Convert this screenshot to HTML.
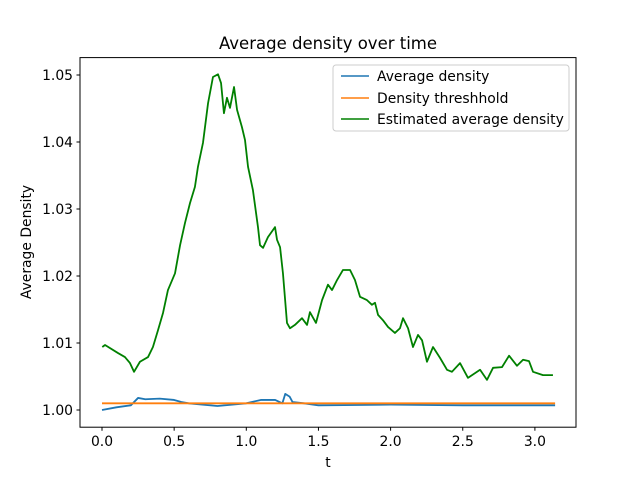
<!DOCTYPE html>
<html><head><meta charset="utf-8"><style>
body{margin:0;background:#fff}
svg{font-family:"DejaVu Sans","Liberation Sans",sans-serif}
</style></head><body>
<svg id="chart" width="640" height="480">
<rect width="640" height="480" fill="#fff"/>
<text x="328" y="49" text-anchor="middle" font-size="16.5">Average density over time</text>
<g id="axes"></g>
<g id="series"></g>
<rect x="80" y="57.6" width="496" height="369.6" fill="none" stroke="#000" stroke-width="1"/>
<text x="328" y="467" text-anchor="middle" font-size="13.9">t</text>
<text transform="translate(31,242) rotate(-90)" text-anchor="middle" font-size="13.9">Average Density</text>
<g>
<rect x="333" y="65" width="236" height="66" rx="3" fill="#fff" stroke="#ccc" stroke-width="1"/>
<line x1="341" y1="76" x2="369" y2="76" stroke="#1f77b4" stroke-width="1.6"/>
<text x="377" y="81" font-size="13.9">Average density</text>
<line x1="341" y1="98" x2="369" y2="98" stroke="#ff7f0e" stroke-width="1.6"/>
<text x="377" y="103" font-size="13.9">Density threshhold</text>
<line x1="341" y1="119" x2="369" y2="119" stroke="#008000" stroke-width="1.6"/>
<text x="377" y="124" font-size="13.9">Estimated average density</text>
</g>
</svg>
<script>
const xTicks=[0,0.5,1.0,1.5,2.0,2.5,3.0];
const xTickLabels=["0.0","0.5","1.0","1.5","2.0","2.5","3.0"];
const yTicks=[1.00,1.01,1.02,1.03,1.04,1.05];
const yTickLabels=["1.00","1.01","1.02","1.03","1.04","1.05"];
const estT=[0.002,0.021,0.111,0.159,0.194,0.222,0.263,0.319,0.353,0.388,0.423,0.457,0.506,0.541,0.575,0.610,0.644,0.665,0.700,0.735,0.769,0.804,0.825,0.845,0.866,0.887,0.915,0.936,0.970,0.991,1.012,1.046,1.081,1.095,1.116,1.150,1.199,1.213,1.234,1.254,1.282,1.303,1.337,1.386,1.421,1.441,1.483,1.525,1.566,1.594,1.629,1.670,1.719,1.753,1.788,1.836,1.871,1.892,1.913,1.947,1.982,2.030,2.065,2.086,2.121,2.155,2.190,2.218,2.252,2.294,2.342,2.391,2.425,2.481,2.536,2.620,2.668,2.710,2.772,2.821,2.876,2.918,2.959,2.987,3.056,3.125];
const estV=[1.0094,1.0097,1.0085,1.0079,1.0070,1.0057,1.0072,1.0079,1.0094,1.0119,1.0145,1.0179,1.0204,1.0246,1.0279,1.0309,1.0333,1.0363,1.0399,1.0458,1.0497,1.0501,1.0488,1.0443,1.0466,1.0451,1.0482,1.0448,1.0422,1.0403,1.0363,1.0328,1.0273,1.0246,1.0242,1.0258,1.0273,1.0254,1.0243,1.0204,1.0130,1.0122,1.0127,1.0137,1.0127,1.0146,1.0130,1.0164,1.0187,1.0179,1.0194,1.0209,1.0209,1.0194,1.0169,1.0164,1.0157,1.0160,1.0142,1.0134,1.0124,1.0115,1.0122,1.0137,1.0122,1.0094,1.0112,1.0104,1.0072,1.0094,1.0078,1.0060,1.0057,1.0070,1.0048,1.0060,1.0045,1.0063,1.0064,1.0081,1.0066,1.0075,1.0073,1.0057,1.0052,1.0052];
const avgT=[0,0.1,0.2,0.25,0.3,0.4,0.5,0.55,0.6,0.8,1.0,1.1,1.2,1.25,1.27,1.3,1.32,1.4,1.5,2.0,2.5,3.14];
const avgV=[1.0000,1.0004,1.0007,1.0018,1.0016,1.0017,1.0015,1.0012,1.0010,1.0006,1.0010,1.0015,1.0015,1.0010,1.0024,1.0020,1.0012,1.0010,1.0007,1.0008,1.0007,1.0007];
const thrT=[0,3.14];
const thrV=[1.001,1.001];
const xs=t=>102+t*144.3;
const ys=v=>410-(v-1)*6700;
const NS="http://www.w3.org/2000/svg";
const ax=document.getElementById('axes');
xTicks.forEach((t,i)=>{
 const l=document.createElementNS(NS,'line');
 l.setAttribute('x1',xs(t));l.setAttribute('x2',xs(t));l.setAttribute('y1',427.2);l.setAttribute('y2',430.7);l.setAttribute('stroke','#000');
 
 
 ax.appendChild(l);
 const tx=document.createElementNS(NS,'text');
 tx.setAttribute('x',xs(t));tx.setAttribute('y',446);tx.setAttribute('text-anchor','middle');tx.setAttribute('font-size','13.9');
 tx.textContent=xTickLabels[i];
 
 
 ax.appendChild(tx);
});
yTicks.forEach((v,i)=>{
 const l=document.createElementNS(NS,'line');
 l.setAttribute('x1',76.5);l.setAttribute('x2',80);l.setAttribute('y1',ys(v));l.setAttribute('y2',ys(v));l.setAttribute('stroke','#000');
 
 
 ax.appendChild(l);
 const tx=document.createElementNS(NS,'text');
 tx.setAttribute('x',73);tx.setAttribute('y',ys(v)+5);tx.setAttribute('text-anchor','end');tx.setAttribute('font-size','13.9');
 tx.textContent=yTickLabels[i];
 
 
 ax.appendChild(tx);
});
const sg=document.getElementById('series');
function line(T,V,color,name){
 const p=document.createElementNS(NS,'polyline');
 p.setAttribute('points',T.map((t,i)=>xs(t)+','+ys(V[i])).join(' '));
 p.setAttribute('fill','none');p.setAttribute('stroke',color);p.setAttribute('stroke-width','1.8');p.setAttribute('stroke-linejoin','round');
 
 
 sg.appendChild(p);
}
line(avgT,avgV,'#1f77b4','average-density-line');
line(thrT,thrV,'#ff7f0e','density-threshold-line');
line(estT,estV,'#008000','estimated-density-line');
</script>
</body></html>
